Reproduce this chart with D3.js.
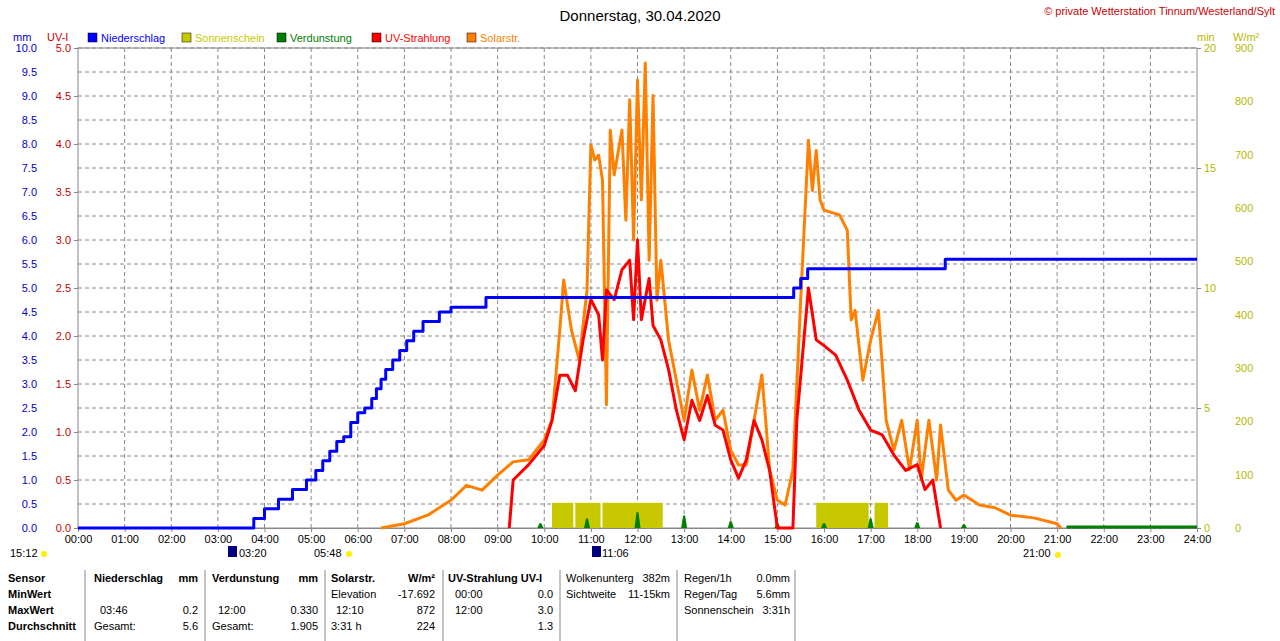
<!DOCTYPE html><html><head><meta charset="utf-8"><script src="https://cdn.jsdelivr.net/npm/d3@7"></script>
<style>body{margin:0;background:#fff}svg{font-family:"Liberation Sans",Arial,sans-serif}</style></head><body><svg id="c" width="1280" height="641"></svg>
<script>
const hourTicks=d3.range(0,25);
const mmTicks=d3.range(0,10.01,0.5);
const uvTicks=d3.range(0,5.01,0.5);
const minTicks=[0,5,10,15,20];
const wTicks=[0,100,200,300,400,500,600,700,800,900];
// precipitation cumulative [time h, mm]
const rainT=[0,3.77,4.0,4.3,4.6,4.9,5.1,5.25,5.4,5.55,5.7,5.85,6.0,6.15,6.3,6.4,6.5,6.6,6.75,6.9,7.05,7.2,7.4,7.75,8.0,8.75,15.35,15.5,15.65,18.6,24];
const rainV=[0,0.2,0.4,0.6,0.8,1.0,1.2,1.4,1.6,1.8,1.9,2.2,2.4,2.5,2.7,2.9,3.1,3.3,3.5,3.7,3.9,4.1,4.3,4.5,4.6,4.8,5.0,5.2,5.4,5.6,5.6];
const solarT=["06:30","07:00","07:30","08:00","08:20","08:40","09:00","09:20","09:40","10:00","10:10","10:20","10:25","10:35","10:45","10:55","11:00","11:05","11:10","11:15","11:20","11:25","11:30","11:40","11:45","11:50","11:55","12:00","12:05","12:10","12:15","12:20","12:25","12:30","12:40","12:50","13:00","13:10","13:20","13:30","13:40","13:50","14:00","14:10","14:20","14:30","14:40","14:45","14:50","15:00","15:10","15:20","15:30","15:40","15:45","15:50","15:55","16:00","16:20","16:30","16:35","16:40","16:50","17:00","17:10","17:20","17:30","17:40","17:50","18:00","18:05","18:15","18:25","18:30","18:40","18:50","19:00","19:20","19:40","20:00","20:30","21:00","21:05"];
const solarV=[0,8,24,52,80,71,99,124,128,165,203,371,465,371,315,446,718,690,699,652,231,746,662,746,577,803,540,840,615,872,502,811,427,502,352,277,202,296,221,287,202,221,146,118,118,202,287,202,109,52,43,109,427,727,633,708,615,596,587,558,390,408,277,352,408,202,146,202,109,202,90,202,90,193,71,52,62,43,38,24,19,8,0];
const uvT=["09:15","09:20","09:40","10:00","10:10","10:20","10:30","10:40","10:50","11:00","11:10","11:15","11:20","11:30","11:40","11:50","11:55","12:00","12:05","12:15","12:20","12:30","12:40","12:50","13:00","13:10","13:20","13:30","13:40","13:50","14:00","14:10","14:20","14:30","14:40","14:50","15:00","15:20","15:25","15:40","15:50","16:00","16:15","16:30","16:45","17:00","17:15","17:30","17:45","18:00","18:10","18:20","18:30"];
const uvV=[0,0.5,0.66,0.86,1.12,1.59,1.59,1.43,1.96,2.38,2.22,1.75,2.48,2.38,2.69,2.79,2.17,3.0,2.17,2.6,2.11,1.96,1.65,1.23,0.92,1.33,1.12,1.38,1.07,1.02,0.71,0.52,0.71,1.12,0.92,0.6,0,0,1.12,2.5,1.96,1.9,1.8,1.54,1.23,1.02,0.97,0.76,0.6,0.66,0.4,0.5,0];
const sunStart=["10:10","10:40","11:15","15:50","17:05"];
const sunEnd=["10:40","11:15","12:35","17:00","17:25"];
const sunV=[1.05,1.05,1.05,1.05,1.05];
const evT=["09:55","10:55","12:00","13:00","14:00","15:00","16:00","17:00","18:00","19:00"];
const evV=[0.1,0.2,0.33,0.26,0.14,0.1,0.1,0.2,0.12,0.08];
const hm=s=>{const[a,b]=s.split(":");return +a+ +b/60;};

const svg=d3.select("#c");
const X0=78,X1=1197,Y0=528,Y1=48;
const x=d3.scaleLinear([0,24],[X0,X1]);
const ymm=d3.scaleLinear([0,10],[Y0,Y1]);
const yuv=d3.scaleLinear([0,5],[Y0,Y1]);
const ymin=d3.scaleLinear([0,20],[Y0,Y1]);
const yw=d3.scaleLinear([0,900],[Y0,Y1]);
const fs="11px";
// grid
const g=svg.append("g");
mmTicks.slice(1).forEach(t=>g.append("line").attr("x1",X0).attr("x2",X1).attr("y1",ymm(t)).attr("y2",ymm(t)).attr("stroke","#888").attr("stroke-dasharray","4,3"));
hourTicks.slice(1,24).forEach(t=>g.append("line").attr("x1",x(t)).attr("x2",x(t)).attr("y1",Y1).attr("y2",Y0).attr("stroke","#888").attr("stroke-dasharray","4,3"));
svg.append("rect").attr("x",X0).attr("y",Y1).attr("width",X1-X0).attr("height",Y0-Y1).attr("fill","none").attr("stroke","#888");
// axes
const ax=(sc,ticks,xpos,orient,col,fmt)=>{const a=(orient==="l"?d3.axisLeft(sc):d3.axisRight(sc)).tickValues(ticks).tickSize(4).tickFormat(fmt);
 const gg=svg.append("g").attr("transform",`translate(${xpos},0)`).call(a);gg.select(".domain").remove();gg.selectAll("line").attr("stroke","#888");gg.selectAll("text").attr("fill",col).style("font-size",fs);return gg;};
ax(ymm,mmTicks,44,"l","#0000cc",d3.format(".1f")).selectAll("line").remove();
ax(yuv,uvTicks,X0,"l","#cc0000",d3.format(".1f"));
ax(ymin,minTicks,X1,"r","#b8b800",d3.format("d"));
ax(yw,wTicks,1228,"r","#b8b800",d3.format("d")).selectAll("line").remove();
const xa=svg.append("g").attr("transform",`translate(0,${Y0})`).call(d3.axisBottom(x).tickValues(hourTicks).tickSize(4).tickFormat(d=>String(d).padStart(2,"0")+":00"));
xa.select(".domain").attr("stroke","#888");xa.selectAll("line").attr("stroke","#888");xa.selectAll("text").style("font-size",fs).attr("fill","#000");
// sunshine bars
sunStart.forEach((s,i)=>svg.append("rect").attr("x",x(hm(s))).attr("width",x(hm(sunEnd[i]))-x(hm(s))-2).attr("y",ymin(sunV[i])).attr("height",Y0-ymin(sunV[i])).attr("fill","#c8c800"));
// evaporation
svg.append("line").attr("x1",x(21.2)).attr("x2",X1).attr("y1",Y0-1).attr("y2",Y0-1).attr("stroke","#008000").attr("stroke-width",3);
evT.forEach((t,i)=>{const c=x(hm(t));svg.append("path").attr("d",`M${c-3},${Y0}L${c-1},${ymm(evV[i])}L${c+1},${ymm(evV[i])}L${c+3},${Y0}Z`).attr("fill","#008000");});
const ln=(xs,ys,sc,col,w,curve)=>svg.append("path").datum(xs.map((t,i)=>[t,ys[i]])).attr("d",d3.line().x(d=>x(d[0])).y(d=>sc(d[1])).curve(curve||d3.curveLinear)).attr("fill","none").attr("stroke",col).attr("stroke-width",w).attr("stroke-linejoin","round");
ln(solarT.map(hm),solarV,yw,"#ff8000",3);
ln(uvT.map(hm),uvV,yuv,"#ff0000",3);
ln(rainT,rainV,ymm,"#0000ff",3,d3.curveStepAfter);
// titles
const tx=(X,Y,s,col,sz,anch,wt)=>svg.append("text").attr("x",X).attr("y",Y).text(s).attr("fill",col||"#000").style("font-size",sz||fs).attr("text-anchor",anch||"start").style("font-weight",wt||"normal");
tx(640,21,"Donnerstag, 30.04.2020","#000","15px","middle");
tx(1275,15,"© private Wetterstation Tinnum/Westerland/Sylt","#cc0000","11px","end");
tx(13,41,"mm","#0000cc");tx(47,41,"UV-I","#cc0000");tx(1197,41,"min","#b8b800");tx(1233,41,"W/m²","#b8b800");
const leg=[["Niederschlag","#0000ff",88],["Sonnenschein","#c8c800",182],["Verdunstung","#008000",277],["UV-Strahlung","#ff0000",372],["Solarstr.","#ff8000",467]];
leg.forEach(l=>{svg.append("rect").attr("x",l[2]).attr("y",33).attr("width",9).attr("height",9).attr("fill",l[1]).attr("stroke","#000").attr("stroke-width",0.5);tx(l[2]+13,42,l[0],l[1]);});
// sun markers
tx(10,557,"15:12");svg.append("circle").attr("cx",44).attr("cy",554).attr("r",3).attr("fill","#ffee00");
svg.append("rect").attr("x",228).attr("y",546).attr("width",9).attr("height",11).attr("fill","#000080");tx(239,557,"03:20");
tx(314,557,"05:48");svg.append("circle").attr("cx",349).attr("cy",554).attr("r",3).attr("fill","#ffee00");
svg.append("rect").attr("x",592).attr("y",546).attr("width",9).attr("height",11).attr("fill","#000080");tx(602,557,"11:06");
tx(1023,557,"21:00");svg.append("circle").attr("cx",1058).attr("cy",555).attr("r",3).attr("fill","#ffee00");
// table
[85,205,325,443,560,677,795].forEach(v=>svg.append("line").attr("x1",v).attr("x2",v).attr("y1",570).attr("y2",641).attr("stroke","#888"));
const rows=[582,598,614,630];
["Sensor","MinWert","MaxWert","Durchschnitt"].forEach((s,i)=>tx(8,rows[i],s,"#000","11px","start","bold"));
tx(94,rows[0],"Niederschlag","#000","11px","start","bold");tx(198,rows[0],"mm","#000","11px","end","bold");
tx(100,rows[2],"03:46");tx(198,rows[2],"0.2","#000",fs,"end");tx(94,rows[3],"Gesamt:");tx(198,rows[3],"5.6","#000",fs,"end");
tx(212,rows[0],"Verdunstung","#000","11px","start","bold");tx(318,rows[0],"mm","#000","11px","end","bold");
tx(218,rows[2],"12:00");tx(318,rows[2],"0.330","#000",fs,"end");tx(212,rows[3],"Gesamt:");tx(318,rows[3],"1.905","#000",fs,"end");
tx(331,rows[0],"Solarstr.","#000","11px","start","bold");tx(435,rows[0],"W/m²","#000","11px","end","bold");
tx(331,rows[1],"Elevation");tx(435,rows[1],"-17.692","#000",fs,"end");tx(336,rows[2],"12:10");tx(435,rows[2],"872","#000",fs,"end");tx(331,rows[3],"3:31 h");tx(435,rows[3],"224","#000",fs,"end");
tx(448,rows[0],"UV-Strahlung UV-I","#000","11px","start","bold");
tx(455,rows[1],"00:00");tx(553,rows[1],"0.0","#000",fs,"end");tx(455,rows[2],"12:00");tx(553,rows[2],"3.0","#000",fs,"end");tx(553,rows[3],"1.3","#000",fs,"end");
tx(566,rows[0],"Wolkenunterg");tx(670,rows[0],"382m","#000",fs,"end");tx(566,rows[1],"Sichtweite");tx(670,rows[1],"11-15km","#000",fs,"end");
tx(684,rows[0],"Regen/1h");tx(790,rows[0],"0.0mm","#000",fs,"end");tx(684,rows[1],"Regen/Tag");tx(790,rows[1],"5.6mm","#000",fs,"end");tx(684,rows[2],"Sonnenschein");tx(790,rows[2],"3:31h","#000",fs,"end");
</script></body></html>
